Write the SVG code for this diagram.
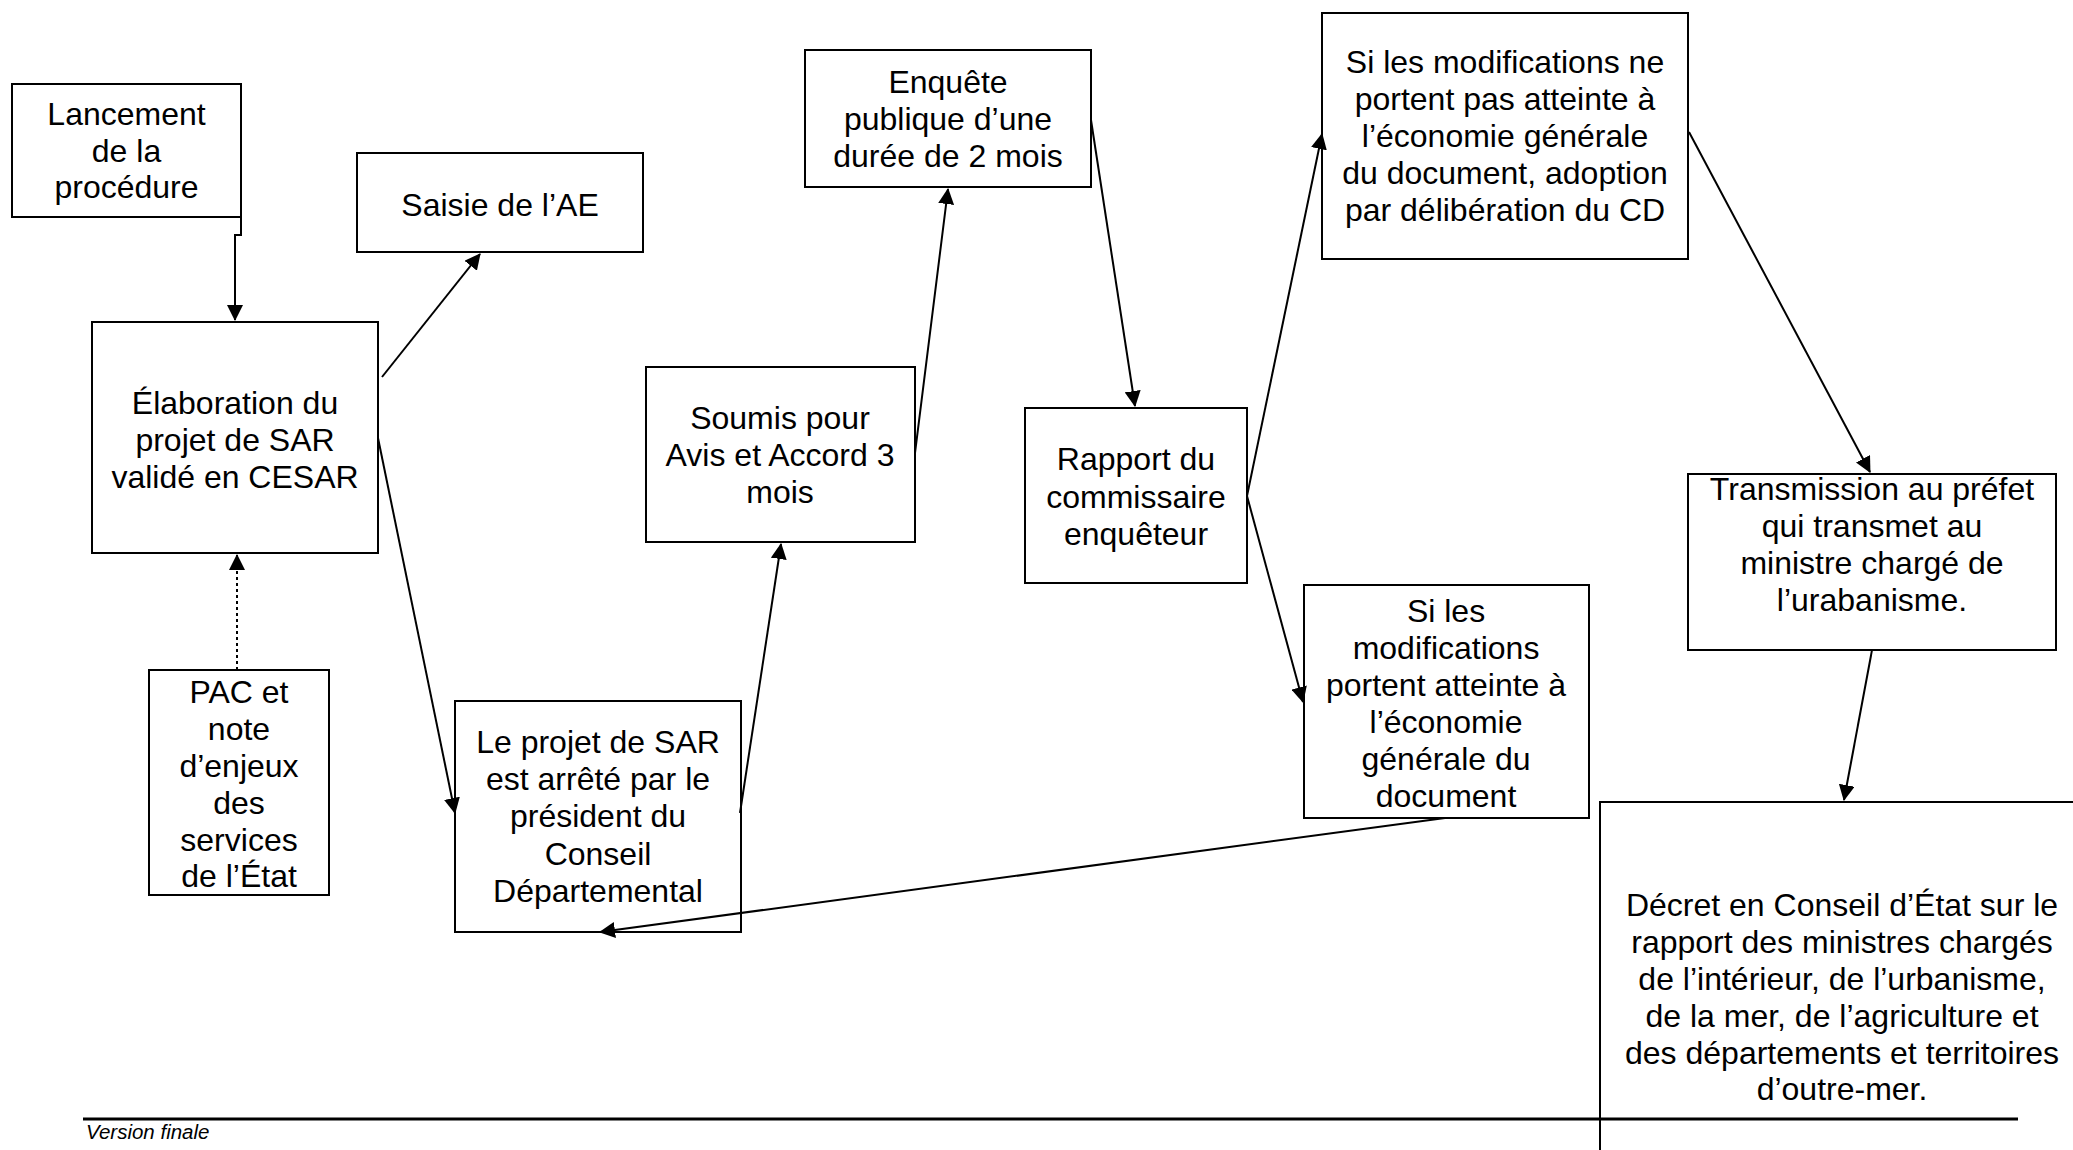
<svg xmlns="http://www.w3.org/2000/svg" width="2073" height="1150" viewBox="0 0 2073 1150">
<style>
.box{fill:#fff;stroke:#000;stroke-width:2}
.t{font-family:"Liberation Sans",Arial,sans-serif;font-size:32px;fill:#000;text-anchor:middle}
.c{fill:none;stroke:#000;stroke-width:2}
.dot{stroke-dasharray:3 3}
</style>
<defs>
<marker id="ah" viewBox="0 0 16 16" refX="15" refY="8" markerWidth="16" markerHeight="16" markerUnits="userSpaceOnUse" orient="auto">
<path d="M0,0 L16,8 L0,16 z" fill="#000"/>
</marker>
</defs>
<rect width="2073" height="1150" fill="#fff"/>
<g id="lancement">
<rect class="box" x="12" y="84" width="229" height="133"/>
<text class="t" x="126.5" y="125">Lancement</text>
<text class="t" x="126.5" y="162">de la</text>
<text class="t" x="126.5" y="198">procédure</text>
</g>
<g id="saisie">
<rect class="box" x="357" y="153" width="286" height="99"/>
<text class="t" x="500" y="216">Saisie de l’AE</text>
</g>
<g id="elaboration">
<rect class="box" x="92" y="322" width="286" height="231"/>
<text class="t" x="235" y="414">Élaboration du</text>
<text class="t" x="235" y="451">projet de SAR</text>
<text class="t" x="235" y="488">validé en CESAR</text>
</g>
<g id="pac">
<rect class="box" x="149" y="670" width="180" height="225"/>
<text class="t" x="239" y="703">PAC et</text>
<text class="t" x="239" y="740">note</text>
<text class="t" x="239" y="777">d’enjeux</text>
<text class="t" x="239" y="814">des</text>
<text class="t" x="239" y="851">services</text>
<text class="t" x="239" y="887">de l’État</text>
</g>
<g id="projet-arrete">
<rect class="box" x="455" y="701" width="286" height="231"/>
<text class="t" x="598" y="753">Le projet de SAR</text>
<text class="t" x="598" y="790">est arrêté par le</text>
<text class="t" x="598" y="827">président du</text>
<text class="t" x="598" y="865">Conseil</text>
<text class="t" x="598" y="902">Départemental</text>
</g>
<g id="soumis">
<rect class="box" x="646" y="367" width="269" height="175"/>
<text class="t" x="780" y="429">Soumis pour</text>
<text class="t" x="780" y="466">Avis et Accord 3</text>
<text class="t" x="780" y="503">mois</text>
</g>
<g id="enquete">
<rect class="box" x="805" y="50" width="286" height="137"/>
<text class="t" x="948" y="93">Enquête</text>
<text class="t" x="948" y="130">publique d’une</text>
<text class="t" x="948" y="167">durée de 2 mois</text>
</g>
<g id="rapport">
<rect class="box" x="1025" y="408" width="222" height="175"/>
<text class="t" x="1136" y="470">Rapport du</text>
<text class="t" x="1136" y="508">commissaire</text>
<text class="t" x="1136" y="545">enquêteur</text>
</g>
<g id="si-ne-portent-pas">
<rect class="box" x="1322" y="13" width="366" height="246"/>
<text class="t" x="1505" y="73">Si les modifications ne</text>
<text class="t" x="1505" y="110">portent pas atteinte à</text>
<text class="t" x="1505" y="147">l’économie générale</text>
<text class="t" x="1505" y="184">du document, adoption</text>
<text class="t" x="1505" y="221">par délibération du CD</text>
</g>
<g id="si-portent">
<rect class="box" x="1304" y="585" width="285" height="233"/>
<text class="t" x="1446" y="622">Si les</text>
<text class="t" x="1446" y="659">modifications</text>
<text class="t" x="1446" y="696">portent atteinte à</text>
<text class="t" x="1446" y="733">l’économie</text>
<text class="t" x="1446" y="770">générale du</text>
<text class="t" x="1446" y="807">document</text>
</g>
<g id="transmission">
<rect class="box" x="1688" y="474" width="368" height="176"/>
<text class="t" x="1872" y="500">Transmission au préfet</text>
<text class="t" x="1872" y="537">qui transmet au</text>
<text class="t" x="1872" y="574">ministre chargé de</text>
<text class="t" x="1872" y="611">l’urabanisme.</text>
</g>
<g id="decret">
<rect class="box" x="1600" y="802" width="490" height="400"/>
<text class="t" x="1842" y="916">Décret en Conseil d’État sur le</text>
<text class="t" x="1842" y="953">rapport des ministres chargés</text>
<text class="t" x="1842" y="990">de l’intérieur, de l’urbanisme,</text>
<text class="t" x="1842" y="1027">de la mer, de l’agriculture et</text>
<text class="t" x="1842" y="1064">des départements et territoires</text>
<text class="t" x="1842" y="1100">d’outre-mer.</text>
</g>
<g id="connectors">
<polyline class="c" points="241,217 241,235 235,235 235,320" marker-end="url(#ah)"/>
<line class="c" x1="382" y1="377" x2="480" y2="254" marker-end="url(#ah)"/>
<line class="c" x1="378" y1="438" x2="455" y2="813" marker-end="url(#ah)"/>
<line class="c dot" x1="237" y1="670" x2="237" y2="555" marker-end="url(#ah)"/>
<line class="c" x1="740" y1="813" x2="781" y2="544" marker-end="url(#ah)"/>
<line class="c" x1="915" y1="453" x2="948" y2="189" marker-end="url(#ah)"/>
<line class="c" x1="1091" y1="120" x2="1135" y2="406" marker-end="url(#ah)"/>
<line class="c" x1="1247" y1="496" x2="1322" y2="134" marker-end="url(#ah)"/>
<line class="c" x1="1247" y1="496" x2="1303" y2="702" marker-end="url(#ah)"/>
<line class="c" x1="1445" y1="818" x2="600" y2="932" marker-end="url(#ah)"/>
<line class="c" x1="1689" y1="132" x2="1870" y2="472" marker-end="url(#ah)"/>
<line class="c" x1="1872" y1="650" x2="1844" y2="800" marker-end="url(#ah)"/>
</g>
<g id="footer">
<line x1="83" y1="1119" x2="2018" y2="1119" stroke="#000" stroke-width="3"/>
<text x="86" y="1139" font-family="Liberation Sans, Arial, sans-serif" font-size="20.5" font-style="italic" fill="#000">Version finale</text>
</g>
</svg>
